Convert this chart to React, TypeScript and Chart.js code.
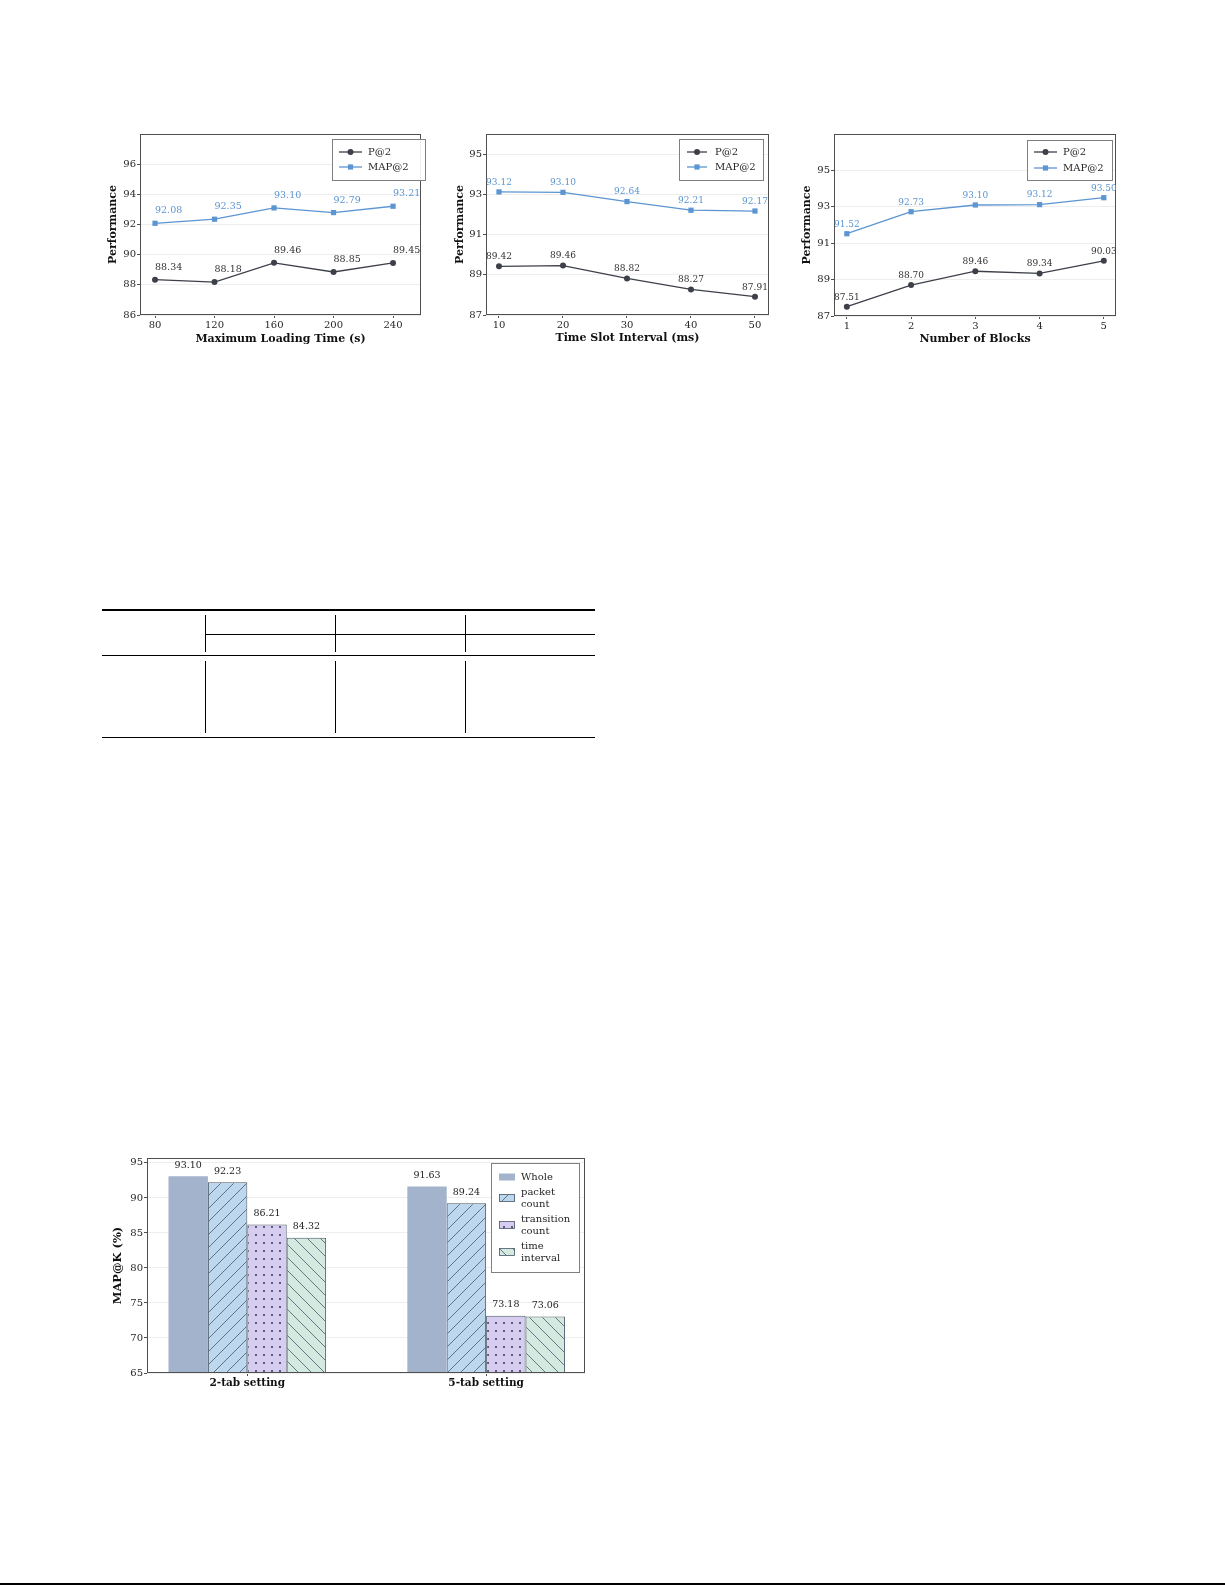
import React, { useEffect, useRef } from "react";
import { Chart, registerables } from "chart.js";

Chart.register(...registerables);

const SERIF = '"DejaVu Serif", "Liberation Serif", serif';
const P_COLOR = "#3d4049";
const MAP_COLOR = "#5b95d2";
const TEXT = "#262626";
const FRAME = "#4f4f4f";
const GRID = "#eeeeee";
const EDGE = "#4a5866";

// ---------- data ----------
const loadTimes = [80, 120, 160, 200, 240];
const loadP = [88.34, 88.18, 89.46, 88.85, 89.45];
const loadMAP = [92.08, 92.35, 93.1, 92.79, 93.21];
const loadTicks = [86, 88, 90, 92, 94, 96];

const slotIntervals = [10, 20, 30, 40, 50];
const slotP = [89.42, 89.46, 88.82, 88.27, 87.91];
const slotMAP = [93.12, 93.1, 92.64, 92.21, 92.17];
const slotTicks = [87, 89, 91, 93, 95];

const blockCounts = [1, 2, 3, 4, 5];
const blockP = [87.51, 88.7, 89.46, 89.34, 90.03];
const blockMAP = [91.52, 92.73, 93.1, 93.12, 93.5];
const blockTicks = [87, 89, 91, 93, 95];

const settings = ["2-tab setting", "5-tab setting"];
const wholeVals = [93.1, 91.63];
const packetVals = [92.23, 89.24];
const transitionVals = [86.21, 73.18];
const timeVals = [84.32, 73.06];
const featureNames = [["Whole"], ["packet", "count"], ["transition", "count"], ["time", "interval"]];
const barTicks = [65, 70, 75, 80, 85, 90, 95];

const seriesNames = ["P@2", "MAP@2"];

// ---------- patterns ----------
function makeHatch(bg: string, line: string, dir: "/" | "\\") {
  const s = 13;
  const c = document.createElement("canvas");
  c.width = s;
  c.height = s;
  const g = c.getContext("2d")!;
  g.fillStyle = bg;
  g.fillRect(0, 0, s, s);
  g.strokeStyle = line;
  g.lineWidth = 0.8;
  g.beginPath();
  if (dir === "/") {
    g.moveTo(-1, s + 1); g.lineTo(s + 1, -1);
    g.moveTo(-1, 1); g.lineTo(1, -1);
    g.moveTo(s - 1, s + 1); g.lineTo(s + 1, s - 1);
  } else {
    g.moveTo(-1, -1); g.lineTo(s + 1, s + 1);
    g.moveTo(s - 1, -1); g.lineTo(s + 1, 1);
    g.moveTo(-1, s - 1); g.lineTo(1, s + 1);
  }
  g.stroke();
  return g.createPattern(c, "repeat")!;
}

function makeDots(bg: string, dot: string) {
  const s = 8;
  const c = document.createElement("canvas");
  c.width = s;
  c.height = s;
  const g = c.getContext("2d")!;
  g.fillStyle = bg;
  g.fillRect(0, 0, s, s);
  g.fillStyle = dot;
  g.beginPath();
  g.arc(4, 4, 1.0, 0, Math.PI * 2);
  g.fill();
  return g.createPattern(c, "repeat")!;
}

// ---------- line chart ----------
type LineSpec = {
  xs: number[];
  p: number[];
  map: number[];
  xMin: number;
  xMax: number;
  yMin: number;
  yMax: number;
  yTicks: number[];
  xTitle: string;
  yAxisWidth: number;
  xAxisHeight: number;
  padTop: number;
  padRight: number;
  yTitlePad: number;
  xTitlePad: number;
  labelAlign: "left" | "center";
  labelDy: number;
  labelSize: number;
  legend: { x1: number; y1: number; x2: number; y2: number; lx1: number; lx2: number; tx: number; yP: number; yM: number };
};

function drawMarker(ctx: CanvasRenderingContext2D, x: number, y: number, shape: string, color: string) {
  ctx.fillStyle = color;
  if (shape === "circle") {
    ctx.beginPath();
    ctx.arc(x, y, 3, 0, Math.PI * 2);
    ctx.fill();
  } else {
    ctx.fillRect(x - 2.6, y - 2.6, 5.2, 5.2);
  }
}

function lineDecor(spec: LineSpec) {
  return {
    id: "lineDecor",
    afterDatasetsDraw(chart: any) {
      const ctx: CanvasRenderingContext2D = chart.ctx;
      const a = chart.chartArea;
      ctx.save();
      // frame
      ctx.strokeStyle = FRAME;
      ctx.lineWidth = 1;
      ctx.strokeRect(Math.round(a.left) + 0.5, Math.round(a.top) + 0.5, Math.round(a.right - a.left) - 1, Math.round(a.bottom - a.top) - 1);
      // data labels
      ctx.font = `${spec.labelSize}px ${SERIF}`;
      ctx.textBaseline = "middle";
      ctx.textAlign = spec.labelAlign;
      chart.data.datasets.forEach((ds: any, di: number) => {
        const meta = chart.getDatasetMeta(di);
        ctx.fillStyle = di === 0 ? "#333333" : MAP_COLOR;
        meta.data.forEach((el: any, i: number) => {
          ctx.fillText(ds.data[i].y.toFixed(2), el.x, el.y - spec.labelDy);
        });
      });
      // legend
      const L = spec.legend;
      ctx.fillStyle = "rgba(255,255,255,0.9)";
      ctx.fillRect(L.x1, L.y1, L.x2 - L.x1, L.y2 - L.y1);
      ctx.strokeStyle = "#808080";
      ctx.lineWidth = 1;
      ctx.strokeRect(L.x1 + 0.5, L.y1 + 0.5, L.x2 - L.x1, L.y2 - L.y1);
      const entries = [
        { y: L.yP, color: P_COLOR, shape: "circle", label: seriesNames[0] },
        { y: L.yM, color: MAP_COLOR, shape: "square", label: seriesNames[1] },
      ];
      ctx.font = `10px ${SERIF}`;
      ctx.textAlign = "left";
      ctx.textBaseline = "middle";
      entries.forEach((e) => {
        ctx.strokeStyle = e.color;
        ctx.lineWidth = 1.3;
        ctx.beginPath();
        ctx.moveTo(L.lx1, e.y);
        ctx.lineTo(L.lx2, e.y);
        ctx.stroke();
        drawMarker(ctx, (L.lx1 + L.lx2) / 2, e.y, e.shape, e.color);
        ctx.fillStyle = TEXT;
        ctx.fillText(e.label, L.tx, e.y);
      });
      ctx.restore();
    },
  };
}

function lineConfig(spec: LineSpec): any {
  const mk = (vals: number[]) => spec.xs.map((x, i) => ({ x, y: vals[i] }));
  return {
    type: "line",
    data: {
      datasets: [
        {
          label: seriesNames[0],
          data: mk(spec.p),
          borderColor: P_COLOR,
          backgroundColor: P_COLOR,
          borderWidth: 1.3,
          pointStyle: "circle",
          pointRadius: 3,
          pointBorderWidth: 0,
          pointBackgroundColor: P_COLOR,
          tension: 0,
          clip: false,
        },
        {
          label: seriesNames[1],
          data: mk(spec.map),
          borderColor: MAP_COLOR,
          backgroundColor: MAP_COLOR,
          borderWidth: 1.3,
          pointStyle: "rect",
          pointRadius: 3.7,
          pointBorderWidth: 0,
          pointBackgroundColor: MAP_COLOR,
          tension: 0,
          clip: false,
        },
      ],
    },
    options: {
      animation: false,
      responsive: false,
      events: [],
      layout: { padding: { top: spec.padTop, right: spec.padRight, left: 0, bottom: 0 } },
      plugins: { legend: { display: false }, tooltip: { enabled: false } },
      scales: {
        x: {
          type: "linear",
          min: spec.xMin,
          max: spec.xMax,
          afterBuildTicks: (s: any) => {
            s.ticks = spec.xs.map((v) => ({ value: v }));
          },
          afterFit: (s: any) => {
            s.height = spec.xAxisHeight;
          },
          grid: { drawOnChartArea: false, drawTicks: true, tickLength: 3, tickColor: FRAME, offset: false },
          border: { display: false },
          ticks: { font: { family: SERIF, size: 10 }, color: TEXT, padding: 1, maxRotation: 0, autoSkip: false },
          title: {
            display: true,
            text: spec.xTitle,
            font: { family: SERIF, size: 11, weight: "bold" },
            color: "#111111",
            padding: { top: 0, bottom: spec.xTitlePad },
          },
        },
        y: {
          type: "linear",
          min: spec.yMin,
          max: spec.yMax,
          afterBuildTicks: (s: any) => {
            s.ticks = spec.yTicks.map((v) => ({ value: v }));
          },
          afterFit: (s: any) => {
            s.width = spec.yAxisWidth;
          },
          grid: { color: GRID, drawTicks: true, tickLength: 3, tickColor: FRAME },
          border: { display: false },
          ticks: { font: { family: SERIF, size: 10 }, color: TEXT, padding: 1 },
          title: {
            display: true,
            text: "Performance",
            font: { family: SERIF, size: 11, weight: "bold" },
            color: "#111111",
            padding: { top: spec.yTitlePad, bottom: 0 },
          },
        },
      },
    },
    plugins: [lineDecor(spec)],
  };
}

// ---------- bar chart ----------
function barConfig(): any {
  const wholeFill = "#a3b3cb";
  const packetFill = makeHatch("#bdd7ee", EDGE, "/");
  const transFill = makeDots("#d7cdf0", "#2f3350");
  const timeFill = makeHatch("#d4e9df", EDGE, "\\");
  const fills: any[] = [wholeFill, packetFill, transFill, timeFill];
  const series = [wholeVals, packetVals, transitionVals, timeVals];
  const datasets = series.map((vals, k) => ({
    label: featureNames[k].join(" "),
    data: settings.map((_, i) => ({ x: i, y: vals[i] })),
    backgroundColor: fills[k],
    borderColor: k === 0 ? wholeFill : EDGE,
    borderWidth: k === 0 ? 0 : 1,
    borderSkipped: false,
    categoryPercentage: 0.66,
    barPercentage: 1,
  }));

  const decor = {
    id: "barDecor",
    afterDatasetsDraw(chart: any) {
      const ctx: CanvasRenderingContext2D = chart.ctx;
      const a = chart.chartArea;
      ctx.save();
      ctx.strokeStyle = FRAME;
      ctx.lineWidth = 1;
      ctx.strokeRect(Math.round(a.left) + 0.5, Math.round(a.top) + 0.5, Math.round(a.right - a.left) - 1, Math.round(a.bottom - a.top) - 1);
      ctx.font = `9.5px ${SERIF}`;
      ctx.fillStyle = "#222222";
      ctx.textAlign = "center";
      ctx.textBaseline = "middle";
      chart.data.datasets.forEach((ds: any, di: number) => {
        const meta = chart.getDatasetMeta(di);
        meta.data.forEach((el: any, i: number) => {
          ctx.fillText(ds.data[i].y.toFixed(2), el.x, el.y - 11);
        });
      });
      // legend
      const x1 = 391, y1 = 28, x2 = 479, y2 = 137;
      ctx.fillStyle = "rgba(255,255,255,0.9)";
      ctx.fillRect(x1, y1, x2 - x1, y2 - y1);
      ctx.strokeStyle = "#808080";
      ctx.strokeRect(x1 + 0.5, y1 + 0.5, x2 - x1, y2 - y1);
      const centers = [42, 63, 90, 117];
      ctx.font = `10px ${SERIF}`;
      ctx.textAlign = "left";
      featureNames.forEach((lines, k) => {
        const cy = centers[k];
        ctx.fillStyle = fills[k];
        ctx.fillRect(399, cy - 3.5, 16, 7);
        if (k > 0) {
          ctx.strokeStyle = EDGE;
          ctx.lineWidth = 0.8;
          ctx.strokeRect(399.5, cy - 3.5, 15, 7);
        }
        ctx.fillStyle = TEXT;
        const n = lines.length;
        lines.forEach((t, j) => {
          ctx.fillText(t, 421, cy + (j - (n - 1) / 2) * 12);
        });
      });
      ctx.restore();
    },
  };

  return {
    type: "bar",
    data: { datasets },
    options: {
      animation: false,
      responsive: false,
      events: [],
      layout: { padding: { top: 23, right: 10, left: 0, bottom: 0 } },
      plugins: { legend: { display: false }, tooltip: { enabled: false } },
      scales: {
        x: {
          type: "linear",
          min: -0.42,
          max: 1.414,
          offset: false,
          afterBuildTicks: (s: any) => {
            s.ticks = settings.map((_, i) => ({ value: i }));
          },
          afterFit: (s: any) => {
            s.height = 17;
          },
          grid: { drawOnChartArea: false, drawTicks: true, tickLength: 3, tickColor: FRAME, offset: false },
          border: { display: false },
          ticks: {
            font: { family: SERIF, size: 10.5, weight: "bold" },
            color: "#111111",
            padding: 1,
            maxRotation: 0,
            autoSkip: false,
            callback: (v: any) => settings[Math.round(Number(v))] ?? "",
          },
        },
        y: {
          type: "linear",
          min: 65,
          max: 95.7,
          afterBuildTicks: (s: any) => {
            s.ticks = barTicks.map((v) => ({ value: v }));
          },
          afterFit: (s: any) => {
            s.width = 47;
          },
          grid: { color: GRID, drawTicks: true, tickLength: 3, tickColor: FRAME },
          border: { display: false },
          ticks: { font: { family: SERIF, size: 10 }, color: TEXT, padding: 1 },
          title: {
            display: true,
            text: "MAP@K (%)",
            font: { family: SERIF, size: 11.5, weight: "bold" },
            color: "#111111",
            padding: { top: 11.1, bottom: 0 },
          },
        },
      },
    },
    plugins: [decor],
  };
}

// ---------- components ----------
function ChartBox(props: { left: number; top: number; width: number; height: number; make: () => any }) {
  const ref = useRef<HTMLCanvasElement>(null);
  useEffect(() => {
    const chart = new Chart(ref.current!, props.make());
    return () => chart.destroy();
  }, []);
  return (
    <canvas
      ref={ref}
      width={props.width}
      height={props.height}
      style={{ position: "absolute", left: props.left, top: props.top, width: props.width, height: props.height, display: "block" }}
    />
  );
}

const spec1: LineSpec = {
  xs: loadTimes, p: loadP, map: loadMAP,
  xMin: 69.9, xMax: 258.8, yMin: 86, yMax: 98, yTicks: loadTicks,
  xTitle: "Maximum Loading Time (s)",
  yAxisWidth: 40, xAxisHeight: 45, padTop: 14, padRight: 19,
  yTitlePad: 6.4, xTitlePad: 14.4,
  labelAlign: "left", labelDy: 12.5, labelSize: 9.5,
  legend: { x1: 232, y1: 19, x2: 325, y2: 60, lx1: 239, lx2: 262, tx: 268, yP: 32, yM: 47 },
};

const spec2: LineSpec = {
  xs: slotIntervals, p: slotP, map: slotMAP,
  xMin: 7.97, xMax: 52.19, yMin: 87, yMax: 96, yTicks: slotTicks,
  xTitle: "Time Slot Interval (ms)",
  yAxisWidth: 46, xAxisHeight: 45, padTop: 14, padRight: 11,
  yTitlePad: 13.4, xTitlePad: 15.4,
  labelAlign: "center", labelDy: 9.5, labelSize: 9,
  legend: { x1: 239, y1: 19, x2: 323, y2: 60, lx1: 247, lx2: 267, tx: 275, yP: 32, yM: 47 },
};

const spec3: LineSpec = {
  xs: blockCounts, p: blockP, map: blockMAP,
  xMin: 0.8, xMax: 5.19, yMin: 87, yMax: 97, yTicks: blockTicks,
  xTitle: "Number of Blocks",
  yAxisWidth: 49, xAxisHeight: 44, padTop: 14, padRight: 9,
  yTitlePad: 15.4, xTitlePad: 14.4,
  labelAlign: "center", labelDy: 9.5, labelSize: 9,
  legend: { x1: 242, y1: 20, x2: 327, y2: 60, lx1: 249, lx2: 272, tx: 278, yP: 32, yM: 48 },
};

function Rule(props: { left: number; top: number; width: number; height: number }) {
  return <div style={{ position: "absolute", background: "#000", ...props }} />;
}

export default function App() {
  const vx = [205, 335, 465];
  return (
    <div style={{ position: "absolute", left: 0, top: 0, width: 1225, height: 1585, background: "#fff", overflow: "hidden" }}>
      <ChartBox left={100} top={120} width={340} height={240} make={() => lineConfig(spec1)} />
      <ChartBox left={440} top={120} width={340} height={240} make={() => lineConfig(spec2)} />
      <ChartBox left={785} top={120} width={340} height={240} make={() => lineConfig(spec3)} />

      {/* table rules */}
      <Rule left={102} top={609} width={493} height={2} />
      {vx.map((x) => (
        <Rule key={"a" + x} left={x} top={615} width={1} height={37} />
      ))}
      <Rule left={205} top={634} width={390} height={1} />
      <Rule left={102} top={655} width={493} height={1} />
      {vx.map((x) => (
        <Rule key={"b" + x} left={x} top={661} width={1} height={72} />
      ))}
      <Rule left={102} top={737} width={493} height={1.3} />

      <ChartBox left={100} top={1135} width={495} height={255} make={barConfig} />

      <Rule left={0} top={1583} width={1225} height={1.5} />
    </div>
  );
}
